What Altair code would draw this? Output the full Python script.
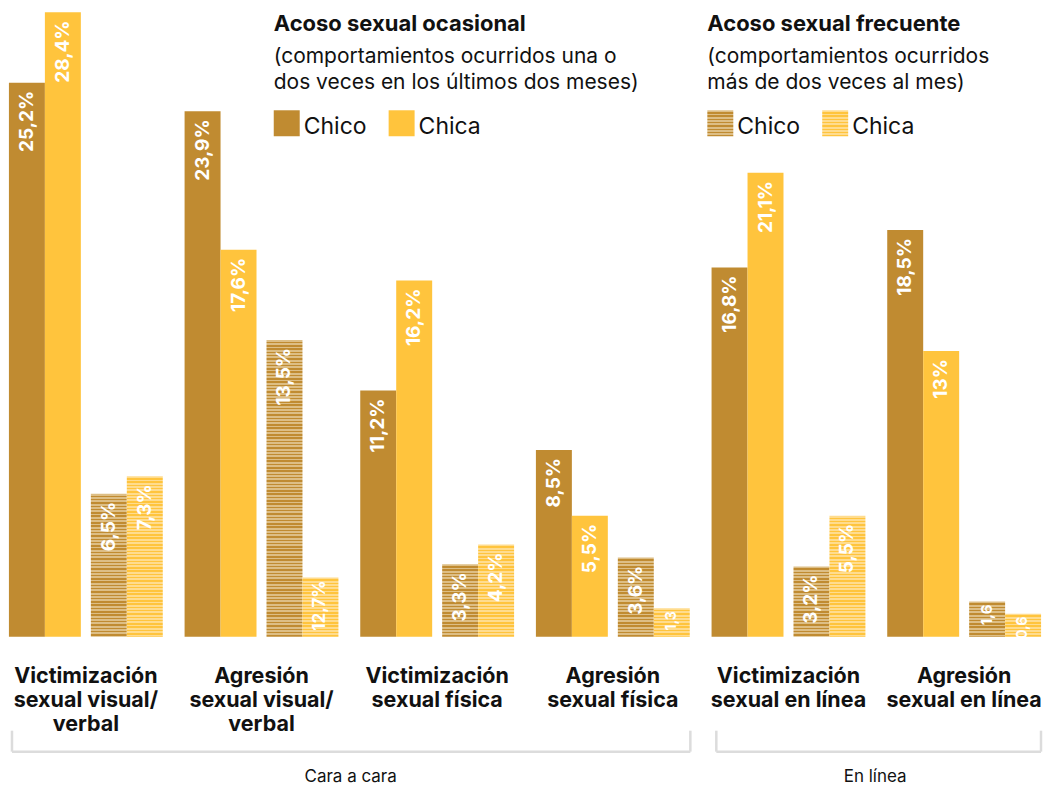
import altair as alt
import pandas as pd

# ---------------- data ----------------
categorias = [
    "Victimización\nsexual visual/\nverbal",
    "Agresión\nsexual visual/\nverbal",
    "Victimización\nsexual física",
    "Agresión\nsexual física",
    "Victimización\nsexual en línea",
    "Agresión\nsexual en línea",
]
chico_ocasional = [25.2, 23.9, 11.2, 8.5, 16.8, 18.5]
chica_ocasional = [28.4, 17.6, 16.2, 5.5, 21.1, 13.0]
chico_frecuente = [6.5, 13.5, 3.3, 3.6, 3.2, 1.6]
chica_frecuente = [7.3, 2.7, 4.2, 1.3, 5.5, 1.05]

etq_chico_ocasional = ["25,2%", "23,9%", "11,2%", "8,5%", "16,8%", "18,5%"]
etq_chica_ocasional = ["28,4%", "17,6%", "16,2%", "5,5%", "21,1%", "13%"]
etq_chico_frecuente = ["6,5%", "13,5%", "3,3%", "3,6%", "3,2%", "1,6"]
etq_chica_frecuente = ["7,3%", "12,7%", "4,2%", "1,3", "5,5%", "0,6"]

ambitos = ["Cara a cara", "En línea"]
titulo_ocasional = "Acoso sexual ocasional"
sub_ocasional = "(comportamientos ocurridos una o\ndos veces en los últimos dos meses)"
titulo_frecuente = "Acoso sexual frecuente"
sub_frecuente = "(comportamientos ocurridos\nmás de dos veces al mes)"
sexos = ["Chico", "Chica"]

# ---------------- style ----------------
W, H, YMAX = 1033, 625, 28.4
FONT = "Inter"
C_CHICO = "#C08B31"
C_CHICA = "#FFC43D"
C_CHICO_CLARO = "#DDBE85"
C_CHICA_CLARO = "#FFDC8E"
BAR_W = 36
# horizontal offset of each bar centre from its group centre (px)
OFFS = {("ocasional", "Chico"): -59.0, ("ocasional", "Chica"): -23.0,
        ("frecuente", "Chico"): 23.0, ("frecuente", "Chica"): 59.0}

rows = []
for i, g in enumerate(categorias):
    rows.append(dict(grupo=g, frecuencia="ocasional", sexo="Chico", valor=chico_ocasional[i], etiqueta=etq_chico_ocasional[i]))
    rows.append(dict(grupo=g, frecuencia="ocasional", sexo="Chica", valor=chica_ocasional[i], etiqueta=etq_chica_ocasional[i]))
    rows.append(dict(grupo=g, frecuencia="frecuente", sexo="Chico", valor=chico_frecuente[i], etiqueta=etq_chico_frecuente[i]))
    rows.append(dict(grupo=g, frecuencia="frecuente", sexo="Chica", valor=chica_frecuente[i], etiqueta=etq_chica_frecuente[i]))
df = pd.DataFrame(rows)
df["fs"] = df["valor"].apply(lambda v: 19 if v >= 3 else (17 if v >= 2 else (15 if v >= 1.5 else 14)))

x_enc = alt.X("grupo:N", sort=categorias,
              scale=alt.Scale(domain=categorias, paddingInner=0.125, paddingOuter=0), axis=None)
y_enc = alt.Y("valor:Q", scale=alt.Scale(domain=[0, YMAX], nice=False, zero=True), axis=None)


def rayas(h_px, oscuro, claro, periodo=3.3, frac=0.55):
    stops = []
    k = 0
    while k * periodo < h_px:
        a = k * periodo / h_px
        b = min((k * periodo + periodo * frac) / h_px, 1.0)
        c = min((k + 1) * periodo / h_px, 1.0)
        stops += [alt.GradientStop(offset=a, color=claro), alt.GradientStop(offset=b, color=claro),
                  alt.GradientStop(offset=b, color=oscuro), alt.GradientStop(offset=c, color=oscuro)]
        k += 1
    return alt.LinearGradient(gradient="linear", stops=stops, x1=0, x2=0, y1=0, y2=1)


layers = []
# solid bars (occasional)
for sexo, col in [("Chico", C_CHICO), ("Chica", C_CHICA)]:
    sub = df[(df.frecuencia == "ocasional") & (df.sexo == sexo)]
    layers.append(alt.Chart(sub).mark_bar(width=BAR_W, xOffset=OFFS[("ocasional", sexo)], color=col)
                  .encode(x=x_enc, y=y_enc))

# striped bars (frequent)
for _, r in df[df.frecuencia == "frecuente"].iterrows():
    if r.sexo == "Chico":
        grad = rayas(r.valor * H / YMAX, C_CHICO, C_CHICO_CLARO)
    else:
        grad = rayas(r.valor * H / YMAX, C_CHICA, C_CHICA_CLARO)
    layers.append(alt.Chart(pd.DataFrame([r.to_dict()]))
                  .mark_bar(width=BAR_W, xOffset=OFFS[("frecuente", r.sexo)], color=grad)
                  .encode(x=x_enc, y=y_enc))

# value labels
for (frec, sexo), off in OFFS.items():
    for big, dx in [(True, -8), (False, -3)]:
        sub = df[(df.frecuencia == frec) & (df.sexo == sexo) & ((df.valor >= 3) if big else (df.valor < 3))]
        if len(sub) == 0:
            continue
        layers.append(alt.Chart(sub).mark_text(angle=270, align="right", baseline="middle", dx=dx,
                                               xOffset=off, color="white", font=FONT, fontWeight="bold")
                      .encode(x=x_enc, y=y_enc, text="etiqueta:N",
                              size=alt.Size("fs:Q", scale=None, legend=None)))

# category labels
cat_df = pd.DataFrame({"grupo": categorias})
layers.append(alt.Chart(cat_df).mark_text(align="center", baseline="alphabetic", fontSize=21.5, font=FONT,
                                          fontWeight="bold", lineBreak="\n", lineHeight=24, color="#111")
              .encode(x=x_enc, y=alt.value(671), text="grupo:N"))

# brackets
def rule(x, x2, y, y2):
    return alt.Chart(pd.DataFrame({"a": [0]})).mark_rule(color="#DCDCDC", strokeWidth=2.5).encode(
        x=alt.value(x), x2=alt.value(x2), y=alt.value(y), y2=alt.value(y2))

for (xa, xb) in [(3, 682), (708, 1033)]:
    layers.append(rule(xa, xb, 740, 740))
    layers.append(rule(xa, xa, 719, 740))
    layers.append(rule(xb, xb, 719, 740))

def texto(t, x, y, size, weight="normal", align="left", lh=26):
    return alt.Chart(pd.DataFrame({"t": [t]})).mark_text(
        align=align, baseline="alphabetic", fontSize=size, fontWeight=weight, font=FONT,
        color="#111", lineBreak="\n", lineHeight=lh).encode(
        x=alt.value(x), y=alt.value(y), text="t:N")

layers.append(texto(ambitos[0], 342, 770, 17, align="center"))
layers.append(texto(ambitos[1], 867, 770, 17, align="center"))

# legend blocks
for xb, tit, sub, striped in [(265, titulo_ocasional, sub_ocasional, False),
                              (699, titulo_frecuente, sub_frecuente, True)]:
    layers.append(texto(tit, xb, 19, 22, weight="bold"))
    layers.append(texto(sub, xb, 51, 21))
    for j, (sx, col, claro) in enumerate([("Chico", C_CHICO, C_CHICO_CLARO), ("Chica", C_CHICA, C_CHICA_CLARO)]):
        sq = xb + (0 if j == 0 else 115)
        fill = rayas(26, col, claro) if striped else col
        layers.append(alt.Chart(pd.DataFrame({"a": [0]})).mark_rect(color=fill).encode(
            x=alt.value(sq), x2=alt.value(sq + 26), y=alt.value(98), y2=alt.value(124)))
        layers.append(texto(sx, sq + 30, 122, 23))

chart = alt.layer(*layers).properties(
    width=W, height=H, padding={"top": 4, "left": 0, "right": 0, "bottom": 0}
).configure_view(strokeWidth=0)

chart.save("out.html", embed_options={"renderer": "svg", "actions": False})
